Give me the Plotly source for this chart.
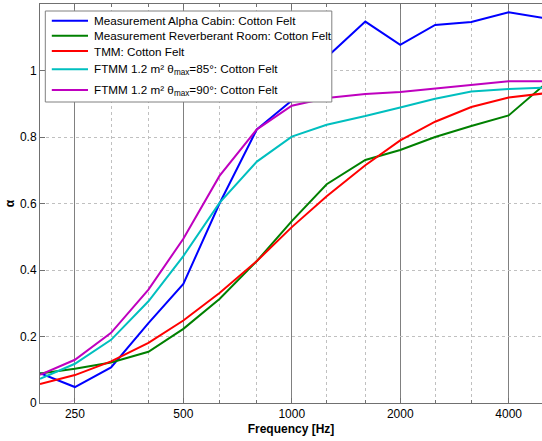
import plotly.graph_objects as go
import numpy as np

freqs = [200, 250, 315, 400, 500, 630, 800, 1000, 1250, 1600, 2000, 2500, 3150, 4000, 5000]

alpha_cabin = [0.09, 0.048, 0.107, 0.24, 0.358, 0.60, 0.823, 0.91, 1.04, 1.147, 1.077, 1.137, 1.146, 1.175, 1.158]
reverb_room = [0.089, 0.103, 0.122, 0.154, 0.223, 0.313, 0.427, 0.547, 0.658, 0.731, 0.761, 0.80, 0.833, 0.865, 0.955]
tmm = [0.057, 0.084, 0.125, 0.181, 0.248, 0.331, 0.427, 0.529, 0.622, 0.715, 0.79, 0.846, 0.89, 0.919, 0.931]
ftmm_85 = [0.073, 0.118, 0.19, 0.306, 0.442, 0.602, 0.726, 0.801, 0.837, 0.863, 0.889, 0.915, 0.937, 0.944, 0.948]
ftmm_90 = [0.085, 0.13, 0.211, 0.341, 0.494, 0.683, 0.823, 0.894, 0.917, 0.929, 0.935, 0.946, 0.958, 0.968, 0.968]

names = [
    "Measurement Alpha Cabin: Cotton Felt",
    "Measurement Reverberant Room: Cotton Felt",
    "TMM: Cotton Felt",
    "FTMM 1.2 m² θ<sub>max</sub>=85°: Cotton Felt",
    "FTMM 1.2 m² θ<sub>max</sub>=90°: Cotton Felt",
]
colors = ["#0000ff", "#008000", "#ff0000", "#00bfbf", "#bf00bf"]
values = [alpha_cabin, reverb_room, tmm, ftmm_85, ftmm_90]

major_ticks = [250, 500, 1000, 2000, 4000]
minor_ticks = [315, 400, 630, 800, 1250, 1600, 2500, 3150, 5000]
y_ticks = [0, 0.2, 0.4, 0.6, 0.8, 1]
y_labels = ["0", "0.2", "0.4", "0.6", "0.8", "1"]

W, H = 542, 441
ML, MR, MT, MB = 40, 0, 4, 38
PW, PH = W - ML - MR, H - MT - MB


def px_x(p):
    return (p - ML) / PW


def px_y(p):
    return (H - MB - p) / PH


fig = go.Figure()
for name, vals, color in zip(names, values, colors):
    fig.add_trace(go.Scatter(x=freqs, y=vals, mode="lines", name=name,
                             line=dict(color=color, width=2), showlegend=False))

# Manual legend (box, line samples, labels)
shapes = [dict(type="rect", xref="paper", yref="paper",
               x0=px_x(45.3), x1=px_x(331.8), y0=px_y(102), y1=px_y(11),
               fillcolor="white", line=dict(color="#808080", width=1), layer="above")]
annotations = []
row_y = [20.7, 35.7, 51, 69.3, 90]
for name, color, ry in zip(names, colors, row_y):
    shapes.append(dict(type="line", xref="paper", yref="paper",
                       x0=px_x(51.8), x1=px_x(88), y0=px_y(ry), y1=px_y(ry),
                       line=dict(color=color, width=2), layer="above"))
    annotations.append(dict(xref="paper", yref="paper", x=px_x(91.5), y=px_y(ry),
                            xanchor="left", yanchor="middle", showarrow=False,
                            text=name, font=dict(size=11.7, color="black")))

fig.update_layout(
    width=W, height=H,
    margin=dict(l=ML, r=MR, t=MT, b=MB, autoexpand=False),
    plot_bgcolor="white", paper_bgcolor="white",
    font=dict(family="Liberation Sans, Arial", size=12, color="black"),
    showlegend=False,
    shapes=shapes,
    annotations=annotations,
    xaxis=dict(type="log", range=[np.log10(200), np.log10(4950)],
               tickvals=major_ticks, ticktext=[str(v) for v in major_ticks],
               showgrid=True, gridcolor="#808080", gridwidth=1,
               showline=True, linecolor="#707070", mirror="ticks",
               ticks="inside", ticklen=5, tickcolor="#707070",
               minor=dict(tickvals=minor_ticks, showgrid=True, gridcolor="#c0c0c0",
                          griddash="dot", ticks="inside", ticklen=3, tickcolor="#707070"),
               title=dict(text="<b>Frequency [Hz]</b>", font=dict(size=12), standoff=4),
               automargin=False, zeroline=False),
    yaxis=dict(range=[0, 1.2], tickvals=y_ticks, ticktext=y_labels,
               showgrid=True, gridcolor="#c0c0c0", griddash="dot",
               showline=True, linecolor="#707070", mirror=False,
               ticks="inside", ticklen=5, tickcolor="#707070",
               title=dict(text="<b>α</b>", font=dict(size=12), standoff=2),
               automargin=False, zeroline=False),
)

fig.write_html("out.html", config={"displayModeBar": False},
               post_script="document.body.style.margin='0';")
